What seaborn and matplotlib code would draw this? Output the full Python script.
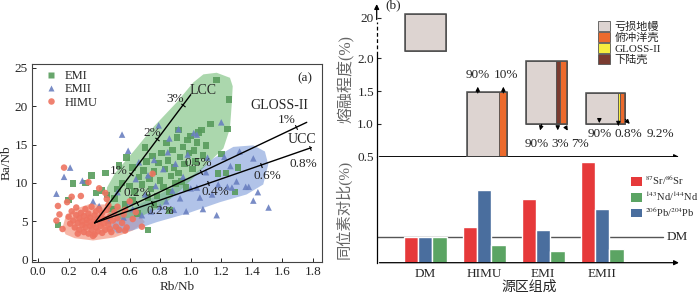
import numpy as np
import pandas as pd
import matplotlib
matplotlib.use('Agg')
import matplotlib.pyplot as plt
from matplotlib.patches import Polygon, Patch
from matplotlib.markers import MarkerStyle
from matplotlib.transforms import Affine2D
import seaborn as sns

sns.set_style('ticks')
plt.rcParams['font.family'] = ['Liberation Serif', 'Noto Sans CJK SC']
plt.rcParams['mathtext.fontset'] = 'stix'
plt.rcParams['axes.unicode_minus'] = False

# ---------------- (a) Rb/Nb vs Ba/Nb ----------------
emi_x = [0.13, 0.20, 0.23, 0.31, 0.35, 0.44, 0.42, 0.72, 0.45, 0.50, 0.52, 0.55, 0.53, 0.58, 0.62,
         0.60, 0.63, 0.66, 0.68, 0.70, 0.69, 0.71, 0.73, 0.74, 0.75, 0.76, 0.78, 0.79, 0.80, 0.81,
         0.82, 0.83, 0.84, 0.85, 0.86, 0.87, 0.88, 0.89, 0.90, 0.91, 0.92, 0.92, 0.93, 0.94, 0.95,
         0.96, 0.97, 0.98, 0.99, 1.00, 1.01, 1.02, 1.03, 1.04, 1.05, 1.07, 1.08, 1.10, 1.13, 1.17,
         1.25, 1.24, 1.20, 1.18, 1.23, 1.29, 1.31, 0.65, 0.57, 0.48, 0.76, 0.86, 0.38, 0.62, 0.72]
emi_y = [4.5, 7.8, 9.9, 10.0, 11.0, 11.3, 9.0, 3.9, 8.4, 8.0, 9.2, 10.0, 12.3, 13.3, 12.0,
         9.6, 8.9, 10.8, 9.8, 14.6, 11.6, 12.8, 10.6, 9.2, 13.5, 11.5, 8.3, 12.6, 10.3, 13.9,
         9.5, 11.8, 15.2, 12.9, 8.8, 10.9, 14.3, 12.0, 9.9, 15.9, 16.9, 11.3, 13.4, 10.2, 14.7,
         12.5, 9.4, 15.6, 13.9, 16.1, 11.8, 14.2, 12.8, 15.3, 16.6, 16.9, 13.6, 14.9, 17.7, 23.4,
         20.9, 17.0, 13.8, 11.2, 11.3, 8.8, 12.0, 6.0, 7.2, 6.6, 7.2, 6.4, 8.7, 7.7, 8.1]

emii_x = [0.12, 0.17, 0.21, 0.29, 0.36, 0.40, 0.55, 0.59, 0.52, 0.50, 0.56, 0.62, 0.64, 0.66, 0.68,
          0.70, 0.72, 0.74, 0.76, 0.77, 0.79, 0.80, 0.82, 0.84, 0.85, 0.86, 0.88, 0.89, 0.90, 0.92,
          0.93, 0.95, 0.97, 0.98, 1.00, 1.02, 1.04, 1.04, 1.06, 1.08, 1.10, 1.11, 1.14, 1.17, 1.18,
          1.20, 1.22, 1.24, 1.26, 1.27, 1.30, 1.32, 1.36, 1.38, 1.41, 1.41, 1.44, 1.51, 0.46, 0.60]
emii_y = [8.6, 10.8, 12.0, 10.3, 7.6, 7.0, 16.3, 14.2, 8.8, 6.2, 5.5, 6.6, 10.5, 12.7, 5.8,
          8.5, 11.0, 6.3, 13.0, 9.6, 17.5, 6.9, 11.8, 7.6, 14.0, 15.8, 9.0, 6.5, 12.5, 17.0,
          8.0, 10.8, 6.3, 13.7, 9.3, 16.5, 9.4, 16.3, 8.1, 6.6, 11.4, 13.3, 8.5, 5.8, 9.8,
          17.9, 13.4, 9.5, 12.2, 9.4, 10.2, 14.1, 9.5, 9.5, 13.2, 7.7, 8.8, 6.8, 5.1, 7.5]

himu_x = [0.17, 0.22, 0.13, 0.12, 0.16, 0.40, 0.44, 0.75, 0.68, 0.60, 0.28, 0.33, 0.14, 0.19, 0.45,
          0.47, 0.57, 0.20, 0.21, 0.22, 0.23, 0.24, 0.25, 0.25, 0.26, 0.27, 0.27, 0.28, 0.29, 0.29,
          0.30, 0.30, 0.31, 0.31, 0.32, 0.32, 0.33, 0.33, 0.34, 0.34, 0.35, 0.35, 0.36, 0.36, 0.37,
          0.37, 0.38, 0.38, 0.39, 0.39, 0.40, 0.40, 0.41, 0.41, 0.42, 0.42, 0.43, 0.44, 0.44, 0.45,
          0.46, 0.47, 0.48, 0.49, 0.50, 0.51, 0.52, 0.53, 0.55, 0.56, 0.58, 0.36, 0.26, 0.46, 0.52,
          0.62, 0.64, 0.57]
himu_y = [12.0, 8.2, 7.0, 5.1, 4.0, 9.3, 8.7, 11.2, 4.3, 7.6, 8.3, 10.1, 5.9, 7.5, 7.9,
          4.0, 3.8, 5.6, 4.7, 6.3, 5.1, 4.2, 5.8, 6.8, 4.8, 3.9, 5.4, 6.1, 4.5, 5.0,
          3.6, 5.7, 6.6, 4.2, 5.2, 4.8, 3.4, 6.0, 4.4, 5.5, 3.9, 6.9, 5.0, 4.6, 5.8,
          3.3, 4.2, 6.3, 5.3, 3.7, 4.9, 6.6, 4.4, 5.6, 3.5, 6.1, 4.7, 5.3, 3.9, 6.5,
          4.6, 5.6, 3.6, 5.1, 6.2, 4.3, 5.4, 3.9, 4.8, 5.9, 4.2, 3.1, 3.4, 7.1, 6.9,
          5.3, 6.2, 6.5]

# outlines of the three fields (Rb/Nb, Ba/Nb)
emi_field = [(0.447, 7.3), (0.451, 9.4), (0.505, 11.3), (0.625, 14.1), (0.756, 17.3), (0.908, 20.5),
             (1.017, 23.1), (1.083, 24.15), (1.17, 24.36), (1.257, 23.7), (1.275, 22.6), (1.268, 20.1),
             (1.257, 17.1), (1.214, 14.5), (1.126, 12.8), (1.039, 11.1), (0.93, 9.0), (0.80, 6.8),
             (0.669, 5.6), (0.538, 5.3), (0.462, 6.0)]
emii_field = [(0.473, 4.3), (0.538, 6.0), (0.669, 7.3), (0.843, 9.0), (1.017, 11.1), (1.148, 13.2),
              (1.279, 14.7), (1.41, 14.9), (1.486, 14.1), (1.508, 12.4), (1.475, 9.8), (1.366, 8.5),
              (1.192, 7.5), (0.974, 6.0), (0.778, 4.9), (0.625, 3.85), (0.516, 3.4)]
himu_field = [(0.16, 4.2), (0.18, 5.6), (0.24, 6.6), (0.33, 7.2), (0.45, 7.2), (0.56, 6.7), (0.66, 5.9),
              (0.70, 4.9), (0.62, 3.8), (0.50, 2.9), (0.36, 2.5), (0.24, 2.8), (0.18, 3.3)]

# mixing lines from the DM end member
mix_start = (0.37, 4.8)
mix_names = ['LCC', 'GLOSS-II', 'UCC']
mix_end = [(1.00, 21.5), (1.76, 17.9), (1.79, 14.6)]
mix_tick_x = [[0.61, 0.78, 0.95], [0.65, 1.07, 1.69], [0.745, 1.115, 1.46, 1.78]]
mix_tick_lab = [['1%', '2%', '3%'], ['0.2%', '0.5%', '1%'], ['0.2%', '0.4%', '0.6%', '0.8%']]
mix_lab_pos = [[(0.53, 11.5), (0.745, 16.5), (0.90, 21.0)],
               [(0.65, 8.7), (1.05, 12.6), (1.63, 18.2)],
               [(0.80, 6.3), (1.16, 8.8), (1.50, 10.9), (1.74, 12.5)]]
mix_name_pos = [(1.08, 22.0), (1.58, 20.1), (1.73, 15.6)]

# ---------------- (b) schematic ----------------
comp_names = ['亏损地幔', '俯冲洋壳', 'GLOSS-II', '下陆壳']
comp_colors = ['#ddd4d1', '#ec6a2c', '#f7ee3f', '#7a3b30']

box_lo = [2.11, 0.5, 1.0, 1.0]      # melting degree, '20' sits at 2.62 on the broken axis
box_hi = [2.68, 1.48, 1.96, 1.47]
box_parts = [[0], [0, 1], [0, 3, 1], [0, 2, 1]]
box_pcts = [[], ['90%', '10%'], ['90%', '3%', '7%'], ['90%', '0.8%', '9.2%']]

sources = ['DM', 'HIMU', 'EMI', 'EMII']
sr = [1.0, 1.42, 2.52, 3.98]
nd = [1.0, 0.71, 0.46, 0.55]
pb = [1.0, 2.86, 1.29, 2.13]
iso_names = [r'$^{87}$Sr/$^{86}$Sr', r'$^{143}$Nd/$^{144}$Nd', r'$^{206}$Pb/$^{204}$Pb']
iso_colors = ['#e6393a', '#5ba463', '#4a6e9e']

W, H = 700, 294
fs = 9.5
fig = plt.figure(figsize=(7, 2.94), dpi=100)

# ====== panel (a) ======
axa = fig.add_axes([32 / W, (H - 262) / H, 290 / W, 198 / H])
for pts, c, a in [(himu_field, '#f39078', 0.65), (emii_field, '#819fda', 0.62), (emi_field, '#6fbb72', 0.58)]:
    axa.add_patch(Polygon(pts, closed=True, fc=c, ec='none', alpha=a, joinstyle='round', zorder=1))

df = pd.DataFrame({
    'x': emi_x + emii_x + himu_x,
    'y': emi_y + emii_y + himu_y,
    'grp': ['EMI'] * len(emi_x) + ['EMII'] * len(emii_x) + ['HIMU'] * len(himu_x),
})
sns.scatterplot(data=df, x='x', y='y', hue='grp', style='grp', hue_order=['EMI', 'EMII', 'HIMU'],
                palette={'EMI': '#589c5c', 'EMII': '#6a80c0', 'HIMU': '#ee7360'},
                markers={'EMI': 's', 'EMII': '^', 'HIMU': 'o'}, s=22, edgecolor='none',
                alpha=0.9, ax=axa, zorder=3)

axa.set_xlim(-0.04, 1.86)
axa.set_ylim(-0.3, 25.5)
axa.set_xticks(np.arange(0, 1.81, 0.2))
axa.set_yticks([0, 5, 10, 15, 20, 25])
axa.xaxis.set_major_formatter(matplotlib.ticker.FormatStrFormatter('%.1f'))
axa.tick_params(direction='in', length=3, width=0.7, labelsize=fs, pad=3)
for s in axa.spines.values():
    s.set_color('#444444')
    s.set_linewidth(0.8)
axa.set_xlabel('Rb/Nb', fontsize=fs, labelpad=2)
axa.set_ylabel('Ba/Nb', fontsize=fs, labelpad=1)

fig.canvas.draw()
for i, name in enumerate(mix_names):
    x0, y0 = mix_start
    x1, y1 = mix_end[i]
    axa.plot([x0, x1], [y0, y1], color='k', lw=1.0, zorder=4)
    p0 = axa.transData.transform((x0, y0))
    p1 = axa.transData.transform((x1, y1))
    ang = np.degrees(np.arctan2(p1[1] - p0[1], p1[0] - p0[0]))
    tx = np.array(mix_tick_x[i])
    ty = y0 + (tx - x0) * (y1 - y0) / (x1 - x0)
    axa.scatter(tx, ty, marker=MarkerStyle('|', transform=Affine2D().rotate_deg(ang)),
                s=14, color='k', lw=0.8, zorder=5)
    for lab, (lx, ly) in zip(mix_tick_lab[i], mix_lab_pos[i]):
        axa.text(lx, ly, lab, fontsize=fs, ha='center', va='center', zorder=6)
    axa.text(*mix_name_pos[i], name, fontsize=fs + 0.5, ha='center', va='center', zorder=6)
axa.text(1.75, 23.6, '(a)', fontsize=fs, ha='center', va='center')
axa.legend(loc='upper left', frameon=False, fontsize=fs - 0.5, handletextpad=0.1, labelspacing=0.1,
           borderaxespad=0.3, borderpad=0.2, markerscale=1.0)

# ====== panel (b) top: melting boxes ======
xl, xr = -0.82, 4.35
axt = fig.add_axes([376.7 / W, (H - 156.7) / H, 305 / W, 154.7 / H])
axt.set_xlim(xl, xr)
axt.set_ylim(0.5, 2.86)
for s in axt.spines.values():
    s.set_visible(False)
axt.set_xticks([])
axt.set_yticks([0.5, 1.0, 1.5, 2.0, 2.62])
axt.set_yticklabels(['0.5', '1.0', '1.5', '2.0', '20'])
axt.tick_params(axis='y', direction='in', length=3, width=0.8, labelsize=fs, pad=2)

axt.plot([xl, xl], [0.5, 2.05], color='k', lw=0.9, clip_on=False)
axt.plot([xl, xl], [2.05, 2.55], color='k', lw=0.9, ls=(0, (3, 2)), clip_on=False)
axt.annotate('', xy=(xl, 2.87), xytext=(xl, 2.55), annotation_clip=False,
             arrowprops=dict(arrowstyle='-|>', color='k', lw=0.9, mutation_scale=7))
axt.annotate('', xy=(1.0, 0.0), xytext=(0.0, 0.0), xycoords='axes fraction', annotation_clip=False,
             arrowprops=dict(arrowstyle='-|>', color='k', lw=0.9, mutation_scale=7))

box_left = [-0.34, 0.71, 1.71, 2.72]
part_w = [[0.69], [0.55, 0.13], [0.51, 0.065, 0.12], [0.545, 0.04, 0.09]]
for i in range(len(box_lo)):
    left = box_left[i]
    for k, w in zip(box_parts[i], part_w[i]):
        axt.bar(left, box_hi[i] - box_lo[i], width=w, bottom=box_lo[i], align='edge',
                color=comp_colors[k], edgecolor='#555555', lw=0.6, zorder=2)
        left += w
    axt.bar(box_left[i], box_hi[i] - box_lo[i], width=sum(part_w[i]), bottom=box_lo[i], align='edge',
            fill=False, edgecolor='#4d4d4d', lw=1.1, zorder=3)

# arrows and percentages
pct_arrows = [[],
              [((0.893, 1.43), (0.893, 1.61), (0.90, 1.745)), ((1.327, 1.43), (1.327, 1.61), (1.373, 1.745))],
              [((1.988, 1.034), (1.937, 0.86), (1.893, 0.69)), ((2.249, 0.983), (2.249, 0.86), (2.288, 0.69)),
               ((2.373, 0.968), (2.441, 0.86), (2.627, 0.69))],
              [((2.954, 1.10), (2.954, 0.97), (2.966, 0.841)), ((3.276, 1.034), (3.276, 0.97), (3.446, 0.841)),
               ((3.361, 1.10), (3.503, 0.97), (3.983, 0.841))]]
for i in range(len(box_pcts)):
    for lab, (p0, p1, pt) in zip(box_pcts[i], pct_arrows[i]):
        axt.annotate('', xy=p1, xytext=p0,
                     arrowprops=dict(arrowstyle='-|>', color='k', lw=0.8, mutation_scale=6), zorder=4)
        axt.text(pt[0], pt[1], lab, fontsize=fs, ha='center', va='center')
axt.text(-0.54, 2.81, '(b)', fontsize=fs, ha='center', va='center')
axt.set_ylabel('熔融程度(%)', fontsize=11.5, color='#666666', labelpad=2)

leg_h = [Patch(fc=c, ec='#555555', lw=0.6) for c in comp_colors]
axt.legend(leg_h, comp_names, loc='upper left', bbox_to_anchor=(0.725, 0.875), frameon=False,
           fontsize=8, handlelength=1.1, handleheight=0.9, handletextpad=0.4, labelspacing=0.05,
           borderaxespad=0, borderpad=0)

# ====== panel (b) bottom: isotope ratios ======
axb = fig.add_axes([376.7 / W, (H - 262.7) / H, 305 / W, 106 / H])
iso = pd.DataFrame({
    'src': sources * 3,
    'val': sr + pb + nd,
    'iso': ['sr'] * 4 + ['pb'] * 4 + ['nd'] * 4,
})
sns.barplot(data=iso, x='src', y='val', hue='iso', hue_order=['sr', 'pb', 'nd'], order=sources,
            palette={'sr': iso_colors[0], 'nd': iso_colors[1], 'pb': iso_colors[2]},
            width=0.73, saturation=1, legend=False, ax=axb, zorder=2)
axb.set_xlim(xl, xr)
axb.set_ylim(0, 4.17)
for k in ['top', 'right', 'bottom']:
    axb.spines[k].set_visible(False)
axb.spines['left'].set_color('k')
axb.spines['left'].set_linewidth(0.9)
axb.set_yticks([])
axb.set_xticks(range(len(sources)))
axb.set_xticklabels(sources, fontsize=fs)
axb.tick_params(axis='x', length=0, pad=4)
axb.annotate('', xy=(1.0, 0.0), xytext=(0.0, 0.0), xycoords='axes fraction', annotation_clip=False,
             arrowprops=dict(arrowstyle='-|>', color='k', lw=0.9, mutation_scale=7))
axb.plot([xl, 4.03], [1.0, 1.0], color='#555555', lw=1.0, zorder=1)
axb.text(4.27, 1.0, 'DM', fontsize=fs, ha='center', va='center')
axb.set_xlabel('源区组成', fontsize=10, labelpad=0)
axb.set_ylabel('同位素对比(%)', fontsize=11, color='#666666', labelpad=18)

iso_h = [Patch(fc=c, ec='none') for c in iso_colors]
axb.legend(iso_h, iso_names, loc='upper left', bbox_to_anchor=(0.835, 0.84), frameon=False,
           fontsize=7.5, handlelength=1.0, handleheight=0.9, handletextpad=0.35, labelspacing=0.2,
           borderaxespad=0, borderpad=0)

fig.savefig('out.png', dpi=100)
